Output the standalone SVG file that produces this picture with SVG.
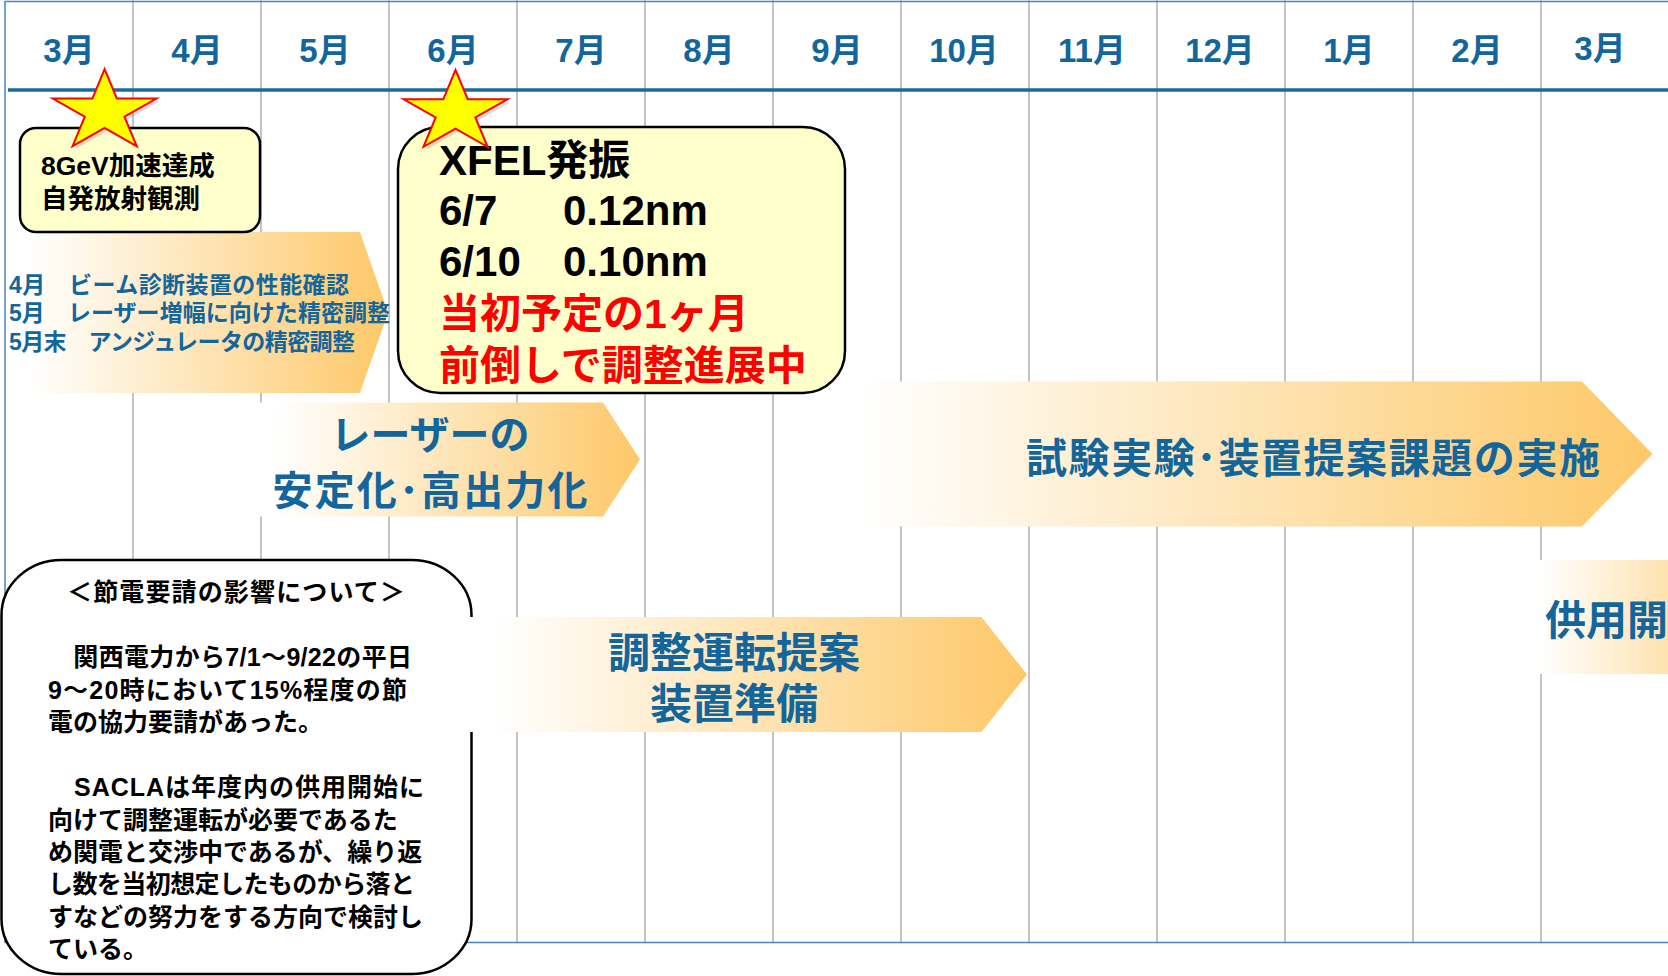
<svg xmlns="http://www.w3.org/2000/svg" width="1668" height="976" viewBox="0 0 1668 976">
<style>
.grid{stroke:#C3C3C3;stroke-width:2}
.border{stroke:#4A84BC;stroke-width:1.5;fill:none}
.t{font-family:"Liberation Sans","Noto Sans CJK JP",sans-serif;font-weight:bold}
.mon{font-size:33px;fill:#12669C;text-anchor:middle}
.blue{fill:#12669C}
.arrow{fill:url(#grad)}
.box{fill:#FFFFCC;stroke:#000;stroke-width:2.5}
.star{fill:#FFFF00;stroke:#FF0000;stroke-width:2;stroke-linejoin:miter}
.shadow{fill:#808080;opacity:0.3}
</style>
<defs>
<linearGradient id="grad" x1="0" y1="0" x2="1" y2="0">
<stop offset="0" stop-color="#FFFFFF"/>
<stop offset="0.06" stop-color="#FFFFFF"/>
<stop offset="1" stop-color="#FDC868"/>
</linearGradient>
<path id="starShape" d="M0,-42.5 L12.2,-13.1 L51.8,-13.1 L19.8,5 L32,34.4 L0,16.2 L-32,34.4 L-19.8,5 L-51.8,-13.1 L-12.2,-13.1 Z"/>
</defs>
<rect x="0" y="0" width="1668" height="976" fill="#FFFFFF"/>

<g id="grid">
<line class="grid" x1="133" y1="0" x2="133" y2="942"/>
<line class="grid" x1="261" y1="0" x2="261" y2="942"/>
<line class="grid" x1="389" y1="0" x2="389" y2="942"/>
<line class="grid" x1="517" y1="0" x2="517" y2="942"/>
<line class="grid" x1="645" y1="0" x2="645" y2="942"/>
<line class="grid" x1="773" y1="0" x2="773" y2="942"/>
<line class="grid" x1="901" y1="0" x2="901" y2="942"/>
<line class="grid" x1="1029" y1="0" x2="1029" y2="942"/>
<line class="grid" x1="1157" y1="0" x2="1157" y2="942"/>
<line class="grid" x1="1285" y1="0" x2="1285" y2="942"/>
<line class="grid" x1="1413" y1="0" x2="1413" y2="942"/>
<line class="grid" x1="1541" y1="0" x2="1541" y2="942"/>
<polyline class="border" points="1668,1.5 5,1.5 5,942.5 1668,942.5"/>
<line x1="8" y1="90" x2="1668" y2="90" stroke="#1A69A0" stroke-width="3.5"/>
</g>

<g id="months" class="t mon">
<text x="69" y="62">3月</text>
<text x="197" y="62">4月</text>
<text x="325" y="62">5月</text>
<text x="453" y="62">6月</text>
<text x="581" y="62">7月</text>
<text x="709" y="62">8月</text>
<text x="837" y="62">9月</text>
<text x="964" y="62">10月</text>
<text x="1092" y="62">11月</text>
<text x="1220" y="62">12月</text>
<text x="1349" y="62">1月</text>
<text x="1477" y="62">2月</text>
<text x="1600" y="60">3月</text>
</g>

<g id="arrow-tuning">
<polygon class="arrow" points="6,232 360,232 388,312.5 360,393 6,393"/>
<g class="t blue" font-size="23">
<text x="9" y="293" textLength="340">4月　ビーム診断装置の性能確認</text>
<text x="9" y="321" textLength="381">5月　レーザー増幅に向けた精密調整</text>
<text x="9" y="350" textLength="346">5月末　アンジュレータの精密調整</text>
</g>
</g>

<g id="box-8gev">
<rect class="box" x="20" y="128" width="240" height="104" rx="16" ry="16"/>
<g class="t" font-size="26.5" fill="#000">
<text x="41" y="175">8GeV加速達成</text>
<text x="41" y="208">自発放射観測</text>
</g>
</g>

<g id="arrow-laser">
<polygon class="arrow" points="252,402.5 603,402.5 640,459.5 603,516.5 252,516.5"/>
<g class="t blue" font-size="40" text-anchor="middle">
<text x="430" y="449">レーザーの</text>
<text x="430" y="505" textLength="315">安定化･高出力化</text>
</g>
</g>

<g id="arrow-experiments">
<polygon class="arrow" points="810,381.5 1582,381.5 1652.5,454 1582,526.5 810,526.5"/>
<text class="t blue" font-size="41" x="1026" y="473" textLength="574">試験実験･装置提案課題の実施</text>
</g>

<g id="box-xfel">
<rect class="box" x="398" y="127" width="447" height="266" rx="42" ry="42"/>
<g class="t" font-size="42" fill="#000">
<text x="439" y="175">XFEL発振</text>
<text x="439" y="225">6/7</text>
<text x="563" y="225">0.12nm</text>
<text x="439" y="276">6/10</text>
<text x="563" y="276">0.10nm</text>
</g>
<g class="t" font-size="41" fill="#FF0000">
<text x="439" y="328">当初予定の1ヶ月</text>
<text x="439" y="380">前倒しで調整進展中</text>
</g>
</g>

<g id="note-power">
<rect x="1.5" y="560" width="470" height="414" rx="60" ry="55" fill="#FFFFFF" stroke="#000" stroke-width="2.5"/>
<g class="t" font-size="25" fill="#000">
<text x="236" y="601" text-anchor="middle" textLength="338">＜節電要請の影響について＞</text>
<text x="48" y="666" textLength="364">　関西電力から7/1～9/22の平日</text>
<text x="48" y="698.5" textLength="359">9～20時において15%程度の節</text>
<text x="48" y="731">電の協力要請があった。</text>
<text x="48" y="796" textLength="376">　SACLAは年度内の供用開始に</text>
<text x="48" y="828.5">向けて調整運転が必要であるた</text>
<text x="48" y="861">め関電と交渉中であるが、繰り返</text>
<text x="48" y="893" textLength="367">し数を当初想定したものから落と</text>
<text x="48" y="925.5">すなどの努力をする方向で検討し</text>
<text x="48" y="958">ている。</text>
</g>
</g>

<g id="arrow-preparation">
<polygon class="arrow" points="462,617 981.5,617 1027,674.5 981.5,732 462,732"/>
<g class="t blue" font-size="42" text-anchor="middle">
<text x="734" y="668">調整運転提案</text>
<text x="734" y="719">装置準備</text>
</g>
</g>

<g id="arrow-user-operation">
<polygon class="arrow" points="1525,560 1750,560 1785,617 1750,674 1525,674"/>
<text class="t blue" font-size="41" x="1545" y="635">供用開</text>
</g>

<g id="star-8gev">
<use href="#starShape" class="shadow" transform="translate(107.6,114.7)"/>
<use href="#starShape" class="star" transform="translate(104.6,111.7)"/>
</g>
<g id="star-xfel">
<use href="#starShape" class="shadow" transform="translate(458.5,115.4)"/>
<use href="#starShape" class="star" transform="translate(455.5,112.4)"/>
</g>

<g id="connectors"></g>
</svg>
